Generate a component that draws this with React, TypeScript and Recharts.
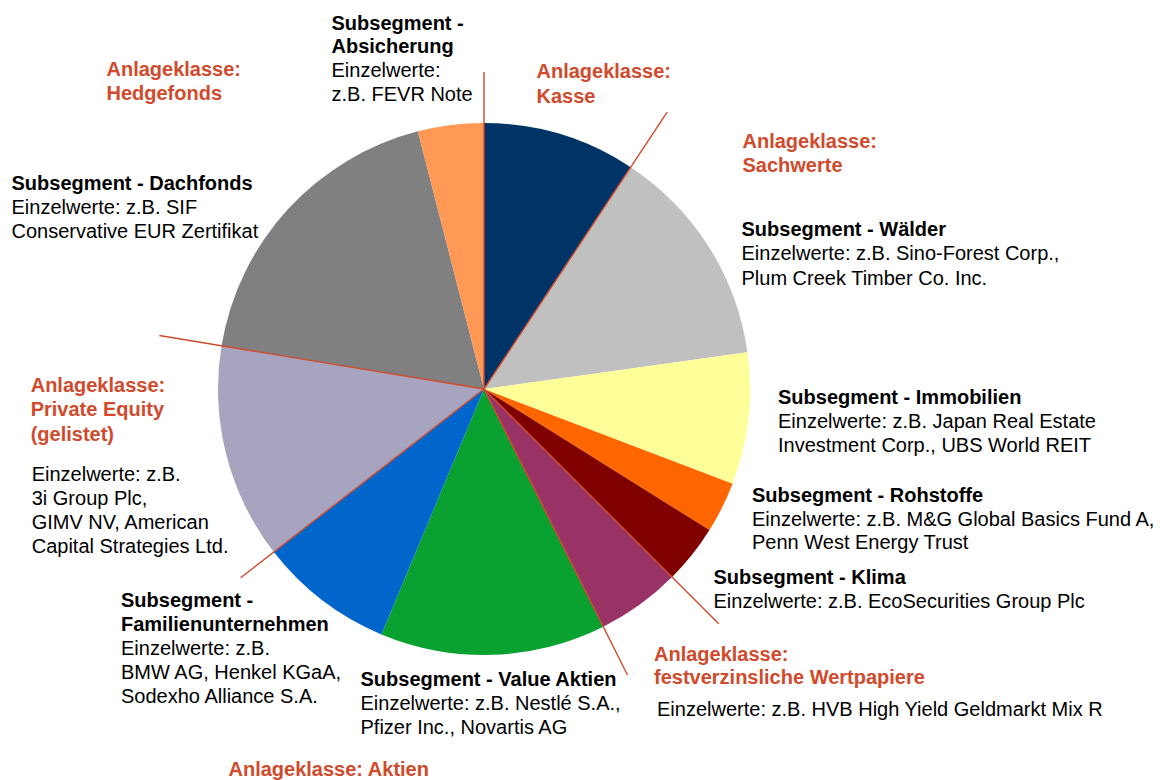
import React from "react";
import { PieChart, Pie, Cell } from "recharts";

// Subsegmente im Uhrzeigersinn ab 12 Uhr (Anteile in % geschätzt)
const segmentNames = [
  "Kasse",
  "Wälder",
  "Immobilien",
  "Rohstoffe",
  "Klima",
  "festverzinsliche Wertpapiere",
  "Value Aktien",
  "Familienunternehmen",
  "Private Equity (gelistet)",
  "Dachfonds",
  "Absicherung",
];
const segmentShares = [9.3, 13.5, 8.0, 3.1, 3.6, 5.1, 13.7, 8.2, 13.1, 18.4, 4.0];
const segmentClasses = [
  "Kasse",
  "Sachwerte",
  "Sachwerte",
  "Sachwerte",
  "Sachwerte",
  "festverzinsliche Wertpapiere",
  "Aktien",
  "Aktien",
  "Private Equity",
  "Hedgefonds",
  "Hedgefonds",
];

const segmentColors = [
  "#003366",
  "#C0C0C0",
  "#FFFF99",
  "#FF6600",
  "#800000",
  "#993366",
  "#09A12F",
  "#0066CC",
  "#A6A4BF",
  "#808080",
  "#FF9955",
];

const RED = "#D14A2C";
const FONT = "'Liberation Sans', Arial, sans-serif";

const CX = 484;
const CY = 389;
const RADIUS = 266;

// Länge der Trennlinien je Anlageklasse (vom Mittelpunkt aus)
const dividerLengths = [317, 332, 332, 320, 308, 329];

const segmentData = segmentNames.map((name, i) => ({
  name,
  value: segmentShares[i],
  klasse: segmentClasses[i],
}));

const classData: { name: string; value: number }[] = [];
segmentData.forEach((s) => {
  const found = classData.find((c) => c.name === s.klasse);
  if (found) found.value += s.value;
  else classData.push({ name: s.klasse, value: s.value });
});

type Line = { t: string; kind?: "bold" | "red" };
type Block = { x: number; y: number; gap: number; lines: Line[] };

const b = (t: string): Line => ({ t, kind: "bold" });
const r = (t: string): Line => ({ t, kind: "red" });
const n = (t: string): Line => ({ t });

const blocks: Block[] = [
  { x: 331.5, y: 29.5, gap: 23.8, lines: [b("Subsegment -"), b("Absicherung"), n("Einzelwerte:"), n("z.B. FEVR Note")] },
  { x: 106.5, y: 76, gap: 23.5, lines: [r("Anlageklasse:"), r("Hedgefonds")] },
  { x: 536.5, y: 78, gap: 24.5, lines: [r("Anlageklasse:"), r("Kasse")] },
  { x: 742.5, y: 147.5, gap: 24.2, lines: [r("Anlageklasse:"), r("Sachwerte")] },
  { x: 11.5, y: 189.5, gap: 24, lines: [b("Subsegment - Dachfonds"), n("Einzelwerte: z.B. SIF"), n("Conservative EUR Zertifikat")] },
  { x: 741.5, y: 236, gap: 24.3, lines: [b("Subsegment - Wälder"), n("Einzelwerte: z.B. Sino-Forest Corp.,"), n("Plum Creek Timber Co. Inc.")] },
  { x: 778, y: 403.5, gap: 24.2, lines: [b("Subsegment - Immobilien"), n("Einzelwerte: z.B. Japan Real Estate"), n("Investment Corp., UBS World REIT")] },
  { x: 752, y: 501.7, gap: 23.8, lines: [b("Subsegment - Rohstoffe"), n("Einzelwerte: z.B. M&G Global Basics Fund A,"), n("Penn West Energy Trust")] },
  { x: 713.5, y: 584.3, gap: 24, lines: [b("Subsegment - Klima"), n("Einzelwerte: z.B. EcoSecurities Group Plc")] },
  { x: 654, y: 660.7, gap: 23, lines: [r("Anlageklasse:"), r("festverzinsliche Wertpapiere")] },
  { x: 657, y: 716, gap: 24, lines: [n("Einzelwerte: z.B. HVB High Yield Geldmarkt Mix R")] },
  { x: 30.7, y: 391.7, gap: 24.5, lines: [r("Anlageklasse:"), r("Private Equity"), r("(gelistet)")] },
  { x: 31.7, y: 480.7, gap: 24.2, lines: [n("Einzelwerte: z.B."), n("3i Group Plc,"), n("GIMV NV, American"), n("Capital Strategies Ltd.")] },
  { x: 121, y: 607, gap: 24, lines: [b("Subsegment -"), b("Familienunternehmen"), n("Einzelwerte: z.B."), n("BMW AG, Henkel KGaA,"), n("Sodexho Alliance S.A.")] },
  { x: 360.5, y: 686, gap: 24, lines: [b("Subsegment - Value Aktien"), n("Einzelwerte: z.B. Nestlé S.A.,"), n("Pfizer Inc., Novartis AG")] },
  { x: 228.5, y: 775.5, gap: 24, lines: [r("Anlageklasse: Aktien")] },
];

const renderDivider = (props: any) => {
  const { cx, cy, startAngle, index } = props;
  const len = dividerLengths[index] ?? 320;
  const rad = (Math.PI / 180) * startAngle;
  return (
    <line
      key={`div-${index}`}
      x1={cx}
      y1={cy}
      x2={cx + len * Math.cos(rad)}
      y2={cy - len * Math.sin(rad)}
      stroke={RED}
      strokeWidth={1.4}
    />
  );
};

export default function App() {
  return (
    <div style={{ position: "absolute", left: 0, top: 0, width: 1168, height: 780, background: "#fff" }}>
      <PieChart width={1168} height={780} margin={{ top: 0, right: 0, bottom: 0, left: 0 }}>
        <Pie
          data={segmentData}
          dataKey="value"
          nameKey="name"
          cx={CX}
          cy={CY}
          outerRadius={RADIUS}
          startAngle={90}
          endAngle={-270}
          stroke="none"
          isAnimationActive={false}
        >
          {segmentData.map((s, i) => (
            <Cell key={s.name} fill={segmentColors[i]} />
          ))}
        </Pie>
        <Pie
          data={classData}
          dataKey="value"
          nameKey="name"
          cx={CX}
          cy={CY}
          outerRadius={RADIUS}
          startAngle={90}
          endAngle={-270}
          fill="none"
          stroke="none"
          label={renderDivider}
          labelLine={false}
          isAnimationActive={false}
        />
      </PieChart>
      <svg
        width={1168}
        height={780}
        style={{ position: "absolute", left: 0, top: 0, pointerEvents: "none" }}
      >
        {blocks.map((blk, bi) =>
          blk.lines.map((ln, li) => (
            <text
              key={`${bi}-${li}`}
              x={blk.x}
              y={blk.y + li * blk.gap}
              fontFamily={FONT}
              fontSize={20}
              fontWeight={ln.kind === "bold" || ln.kind === "red" ? 700 : 400}
              fill={ln.kind === "red" ? RED : "#000"}
            >
              {ln.t}
            </text>
          ))
        )}
      </svg>
    </div>
  );
}
